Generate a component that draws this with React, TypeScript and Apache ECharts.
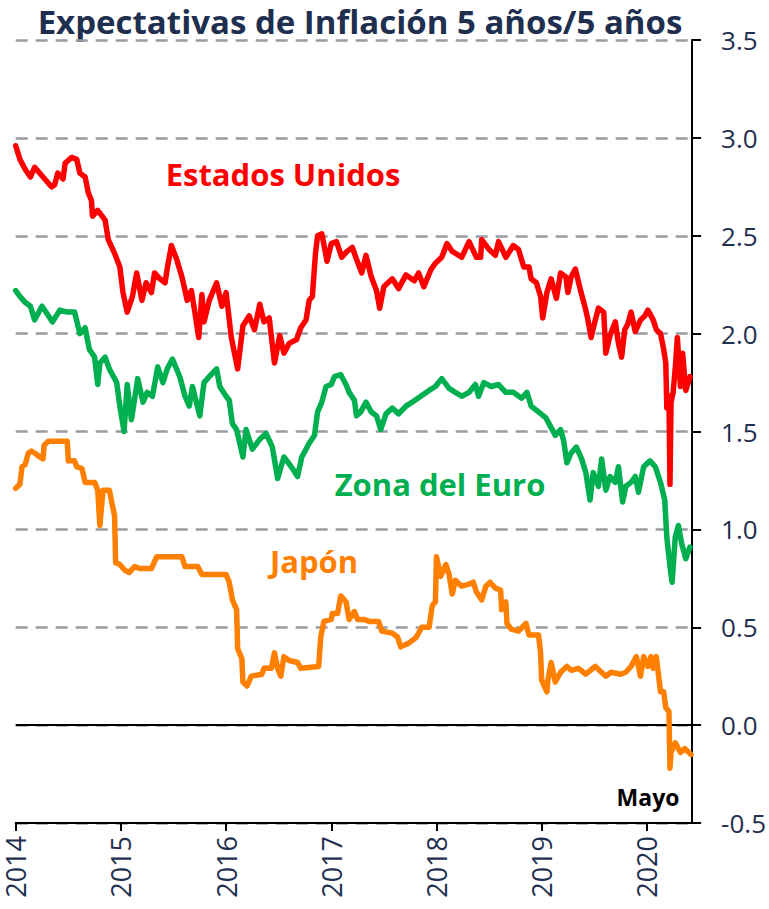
import React, { useEffect, useRef } from "react";
import * as echarts from "echarts";

const TITLE = "Expectativas de Inflación 5 años/5 años";
const YEARS = [2014, 2015, 2016, 2017, 2018, 2019, 2020];
const X_MIN = 2014;
const X_MAX = 2020.43;
const Y_MIN = -0.5;
const Y_MAX = 3.5;
const Y_STEP = 0.5;

const NAMES = ["Estados Unidos", "Zona del Euro", "Japón"];
const COLORS = ["#ff0000", "#00b050", "#ff8000"];

const usData: [number, number][] = [
  [2014.0, 2.96], [2014.04, 2.89], [2014.09, 2.84], [2014.14, 2.8], [2014.18, 2.85],
  [2014.26, 2.8], [2014.34, 2.75], [2014.37, 2.76], [2014.4, 2.82], [2014.45, 2.79],
  [2014.47, 2.87], [2014.53, 2.9], [2014.58, 2.89], [2014.61, 2.82], [2014.66, 2.8],
  [2014.69, 2.72], [2014.72, 2.68], [2014.73, 2.6], [2014.78, 2.63], [2014.85, 2.58],
  [2014.88, 2.48], [2014.94, 2.41], [2014.99, 2.34], [2015.02, 2.21], [2015.06, 2.11],
  [2015.11, 2.19], [2015.15, 2.31], [2015.2, 2.17], [2015.24, 2.26], [2015.29, 2.21],
  [2015.32, 2.31], [2015.37, 2.28], [2015.42, 2.26], [2015.44, 2.33], [2015.48, 2.45],
  [2015.53, 2.38], [2015.58, 2.29], [2015.61, 2.22], [2015.63, 2.17], [2015.67, 2.22],
  [2015.7, 2.12], [2015.74, 1.98], [2015.77, 2.2], [2015.79, 2.06], [2015.84, 2.17],
  [2015.91, 2.26], [2015.96, 2.14], [2016.0, 2.21], [2016.05, 1.98], [2016.11, 1.82],
  [2016.16, 2.04], [2016.22, 2.09], [2016.27, 2.02], [2016.32, 2.15], [2016.36, 2.06],
  [2016.41, 2.08], [2016.46, 1.85], [2016.51, 1.99], [2016.55, 1.9], [2016.6, 1.95],
  [2016.67, 1.97], [2016.71, 2.03], [2016.76, 2.07], [2016.79, 2.17], [2016.82, 2.19],
  [2016.85, 2.41], [2016.87, 2.5], [2016.91, 2.51], [2016.96, 2.37], [2017.0, 2.46],
  [2017.05, 2.47], [2017.1, 2.39], [2017.15, 2.42], [2017.2, 2.44], [2017.24, 2.38],
  [2017.29, 2.31], [2017.33, 2.4], [2017.38, 2.29], [2017.43, 2.22], [2017.46, 2.13],
  [2017.5, 2.24], [2017.58, 2.28], [2017.64, 2.23], [2017.71, 2.3], [2017.79, 2.27],
  [2017.83, 2.31], [2017.88, 2.24], [2017.95, 2.33], [2017.99, 2.36], [2018.05, 2.39],
  [2018.1, 2.46], [2018.15, 2.42], [2018.24, 2.39], [2018.31, 2.47], [2018.38, 2.39],
  [2018.42, 2.39], [2018.43, 2.48], [2018.5, 2.43], [2018.56, 2.4], [2018.59, 2.47],
  [2018.66, 2.39], [2018.73, 2.45], [2018.78, 2.43], [2018.83, 2.34], [2018.88, 2.34],
  [2018.9, 2.28], [2018.95, 2.26], [2018.99, 2.19], [2019.01, 2.08], [2019.05, 2.21],
  [2019.09, 2.28], [2019.14, 2.18], [2019.18, 2.31], [2019.23, 2.29], [2019.25, 2.21],
  [2019.28, 2.29], [2019.32, 2.33], [2019.37, 2.22], [2019.42, 2.12], [2019.44, 2.07],
  [2019.47, 1.98], [2019.51, 2.07], [2019.54, 2.13], [2019.59, 2.11], [2019.61, 1.9],
  [2019.65, 1.99], [2019.7, 2.06], [2019.73, 1.95], [2019.76, 1.88], [2019.79, 2.02],
  [2019.82, 2.05], [2019.85, 2.11], [2019.89, 2.01], [2019.94, 2.07], [2019.98, 2.09],
  [2020.01, 2.12], [2020.06, 2.07], [2020.09, 2.02], [2020.13, 2.0], [2020.16, 1.92],
  [2020.18, 1.85], [2020.19, 1.62], [2020.21, 1.68], [2020.22, 1.23], [2020.23, 1.65],
  [2020.25, 1.7], [2020.27, 1.82], [2020.29, 1.98], [2020.32, 1.73], [2020.34, 1.9],
  [2020.37, 1.71], [2020.41, 1.78],
];

const euroData: [number, number][] = [
  [2014.0, 2.22], [2014.04, 2.19], [2014.09, 2.16], [2014.14, 2.14], [2014.18, 2.07],
  [2014.25, 2.14], [2014.3, 2.1], [2014.35, 2.06], [2014.42, 2.12], [2014.49, 2.11],
  [2014.56, 2.11], [2014.61, 2.0], [2014.66, 2.03], [2014.7, 1.92], [2014.75, 1.88],
  [2014.78, 1.74], [2014.8, 1.85], [2014.85, 1.88], [2014.89, 1.82], [2014.96, 1.75],
  [2014.99, 1.63], [2015.03, 1.5], [2015.06, 1.74], [2015.1, 1.56], [2015.16, 1.77],
  [2015.21, 1.65], [2015.25, 1.7], [2015.3, 1.68], [2015.35, 1.83], [2015.4, 1.75],
  [2015.44, 1.82], [2015.49, 1.87], [2015.56, 1.78], [2015.61, 1.68], [2015.65, 1.63],
  [2015.68, 1.73], [2015.75, 1.58], [2015.79, 1.75], [2015.84, 1.78], [2015.91, 1.82],
  [2015.94, 1.73], [2016.0, 1.68], [2016.03, 1.66], [2016.06, 1.54], [2016.1, 1.51],
  [2016.13, 1.44], [2016.16, 1.37], [2016.19, 1.51], [2016.25, 1.41], [2016.32, 1.46],
  [2016.38, 1.49], [2016.44, 1.42], [2016.49, 1.26], [2016.55, 1.37], [2016.62, 1.32],
  [2016.68, 1.27], [2016.72, 1.37], [2016.79, 1.44], [2016.84, 1.48], [2016.87, 1.6],
  [2016.91, 1.65], [2016.95, 1.73], [2017.0, 1.74], [2017.03, 1.78], [2017.09, 1.79],
  [2017.14, 1.74], [2017.17, 1.7], [2017.22, 1.66], [2017.24, 1.58], [2017.28, 1.6],
  [2017.33, 1.65], [2017.38, 1.6], [2017.43, 1.58], [2017.47, 1.51], [2017.52, 1.59],
  [2017.58, 1.62], [2017.64, 1.59], [2017.71, 1.63], [2017.77, 1.65], [2017.85, 1.68],
  [2017.93, 1.71], [2017.99, 1.73], [2018.05, 1.77], [2018.12, 1.72], [2018.18, 1.7],
  [2018.24, 1.68], [2018.31, 1.7], [2018.37, 1.74], [2018.4, 1.68], [2018.45, 1.75],
  [2018.52, 1.73], [2018.59, 1.74], [2018.66, 1.7], [2018.73, 1.7], [2018.81, 1.67],
  [2018.86, 1.7], [2018.9, 1.63], [2018.97, 1.6], [2019.04, 1.57], [2019.08, 1.53],
  [2019.13, 1.48], [2019.18, 1.51], [2019.21, 1.45], [2019.24, 1.34], [2019.28, 1.39],
  [2019.33, 1.42], [2019.38, 1.36], [2019.42, 1.29], [2019.46, 1.15], [2019.49, 1.29],
  [2019.54, 1.22], [2019.57, 1.36], [2019.61, 1.2], [2019.65, 1.27], [2019.7, 1.24],
  [2019.73, 1.32], [2019.77, 1.14], [2019.8, 1.22], [2019.85, 1.24], [2019.89, 1.27],
  [2019.92, 1.19], [2019.97, 1.32], [2020.03, 1.35], [2020.08, 1.32], [2020.13, 1.24],
  [2020.17, 1.15], [2020.19, 0.96], [2020.22, 0.81], [2020.24, 0.73], [2020.27, 0.96],
  [2020.3, 1.02], [2020.33, 0.93], [2020.37, 0.85], [2020.41, 0.91],
];

const japanData: [number, number][] = [
  [2014.0, 1.21], [2014.04, 1.23], [2014.06, 1.32], [2014.09, 1.33], [2014.12, 1.39],
  [2014.15, 1.4], [2014.18, 1.39], [2014.23, 1.37], [2014.26, 1.36], [2014.27, 1.43],
  [2014.31, 1.45], [2014.49, 1.45], [2014.5, 1.35], [2014.56, 1.35], [2014.58, 1.32],
  [2014.63, 1.31], [2014.66, 1.24], [2014.75, 1.24], [2014.78, 1.2], [2014.8, 1.02],
  [2014.83, 1.2], [2014.89, 1.2], [2014.94, 1.07], [2014.95, 0.83], [2014.99, 0.82],
  [2015.04, 0.79], [2015.08, 0.78], [2015.13, 0.81], [2015.18, 0.8], [2015.29, 0.8],
  [2015.34, 0.86], [2015.58, 0.86], [2015.61, 0.81], [2015.73, 0.81], [2015.77, 0.77],
  [2016.0, 0.77], [2016.03, 0.73], [2016.06, 0.64], [2016.1, 0.59], [2016.11, 0.39],
  [2016.15, 0.34], [2016.16, 0.22], [2016.2, 0.2], [2016.24, 0.25], [2016.34, 0.26],
  [2016.36, 0.29], [2016.43, 0.29], [2016.46, 0.37], [2016.49, 0.29], [2016.52, 0.25],
  [2016.55, 0.35], [2016.6, 0.33], [2016.68, 0.32], [2016.71, 0.29], [2016.88, 0.3],
  [2016.9, 0.45], [2016.93, 0.53], [2017.0, 0.54], [2017.01, 0.57], [2017.06, 0.57],
  [2017.09, 0.66], [2017.14, 0.63], [2017.17, 0.54], [2017.22, 0.58], [2017.25, 0.54],
  [2017.31, 0.54], [2017.36, 0.53], [2017.45, 0.53], [2017.48, 0.48], [2017.58, 0.47],
  [2017.63, 0.45], [2017.66, 0.4], [2017.74, 0.42], [2017.81, 0.45], [2017.86, 0.5],
  [2017.93, 0.5], [2017.96, 0.61], [2017.99, 0.63], [2018.0, 0.86], [2018.04, 0.76],
  [2018.09, 0.82], [2018.12, 0.77], [2018.15, 0.67], [2018.18, 0.74], [2018.24, 0.71],
  [2018.31, 0.72], [2018.35, 0.73], [2018.38, 0.68], [2018.43, 0.64], [2018.47, 0.71],
  [2018.51, 0.73], [2018.56, 0.7], [2018.61, 0.69], [2018.62, 0.59], [2018.66, 0.63],
  [2018.67, 0.52], [2018.71, 0.49], [2018.78, 0.48], [2018.85, 0.52], [2018.88, 0.46],
  [2018.97, 0.46], [2018.99, 0.37], [2019.0, 0.23], [2019.05, 0.17], [2019.06, 0.23],
  [2019.09, 0.32], [2019.13, 0.22], [2019.18, 0.27], [2019.24, 0.3], [2019.28, 0.28],
  [2019.35, 0.29], [2019.42, 0.26], [2019.51, 0.3], [2019.61, 0.25], [2019.66, 0.27],
  [2019.75, 0.26], [2019.8, 0.27], [2019.85, 0.3], [2019.9, 0.35], [2019.94, 0.25],
  [2019.97, 0.35], [2020.01, 0.3], [2020.04, 0.35], [2020.06, 0.29], [2020.09, 0.35],
  [2020.13, 0.17], [2020.16, 0.17], [2020.18, 0.09], [2020.21, 0.07], [2020.22, -0.22],
  [2020.23, -0.14], [2020.27, -0.09], [2020.32, -0.14], [2020.36, -0.12], [2020.42, -0.15],
];

const NAVY = "#1f2f4f";
const FONT = '"Open Sans", "Noto Sans", sans-serif';

export default function App() {
  const ref = useRef<HTMLDivElement>(null);

  useEffect(() => {
    if (!ref.current) return;
    const chart = echarts.init(ref.current, undefined, { renderer: "svg" });
    const seriesData = [usData, euroData, japanData];
    const option: any = {
      animation: false,
      backgroundColor: "#ffffff",
      grid: { left: 15.7, right: 75, top: 40, bottom: 86, containLabel: false },
      xAxis: {
        type: "value",
        min: X_MIN,
        max: X_MAX,
        axisLine: { show: true, onZero: false, lineStyle: { color: "#000", width: 2 } },
        axisTick: {
          show: true,
          length: 8,
          customValues: YEARS,
          lineStyle: { color: "#000", width: 2 },
        },
        axisLabel: {
          customValues: YEARS,
          rotate: 90,
          margin: 13,
          fontSize: 27,
          fontFamily: FONT,
          color: NAVY,
          formatter: (v: number) => (Math.abs(v - Math.round(v)) < 1e-6 ? String(Math.round(v)) : ""),
        },
        splitLine: { show: false },
      },
      yAxis: {
        type: "value",
        position: "right",
        min: Y_MIN,
        max: Y_MAX,
        interval: Y_STEP,
        axisLine: { show: true, lineStyle: { color: "#000", width: 2 } },
        axisTick: { show: true, length: 9, lineStyle: { color: "#000", width: 2 } },
        axisLabel: {
          margin: 29,
          fontSize: 26,
          fontFamily: FONT,
          color: NAVY,
          formatter: (v: number) => v.toFixed(1),
        },
        splitLine: {
          show: true,
          lineStyle: { type: [12, 8], color: "#9a9ca4", width: 2.5 },
        },
      },
      series: seriesData.map((d, i) => ({
        name: NAMES[i],
        type: "line",
        data: d,
        showSymbol: false,
        symbol: "none",
        lineStyle: { color: COLORS[i], width: 5.5, join: "round", cap: "round" },
        itemStyle: { color: COLORS[i] },
        z: 3 + (2 - i),
        markLine:
          i === 2
            ? {
                silent: true,
                symbol: ["none", "none"],
                label: { show: false },
                lineStyle: { color: "#000", type: "solid", width: 2 },
                data: [{ yAxis: 0 }],
                z: 1,
              }
            : undefined,
      })),
      graphic: [
        {
          type: "text",
          x: 360,
          y: 21,
          style: {
            text: TITLE,
            fill: NAVY,
            font: `bold 33px ${FONT}`,
            textAlign: "center",
            textVerticalAlign: "middle",
          },
        },
        {
          type: "text",
          x: 283,
          y: 174,
          style: {
            text: NAMES[0],
            fill: COLORS[0],
            font: `bold 31px ${FONT}`,
            textAlign: "center",
            textVerticalAlign: "middle",
          },
        },
        {
          type: "text",
          x: 440,
          y: 484,
          style: {
            text: NAMES[1],
            fill: COLORS[1],
            font: `bold 31px ${FONT}`,
            textAlign: "center",
            textVerticalAlign: "middle",
          },
        },
        {
          type: "text",
          x: 314,
          y: 561,
          style: {
            text: NAMES[2],
            fill: COLORS[2],
            font: `bold 31px ${FONT}`,
            textAlign: "center",
            textVerticalAlign: "middle",
          },
        },
        {
          type: "text",
          x: 648,
          y: 797,
          style: {
            text: "Mayo",
            fill: "#000",
            font: `bold 23px ${FONT}`,
            textAlign: "center",
            textVerticalAlign: "middle",
          },
        },
      ],
    };
    chart.setOption(option);
    return () => chart.dispose();
  }, []);

  return (
    <div
      ref={ref}
      style={{ position: "absolute", left: 0, top: 0, width: 769, height: 909, background: "#fff" }}
    />
  );
}
